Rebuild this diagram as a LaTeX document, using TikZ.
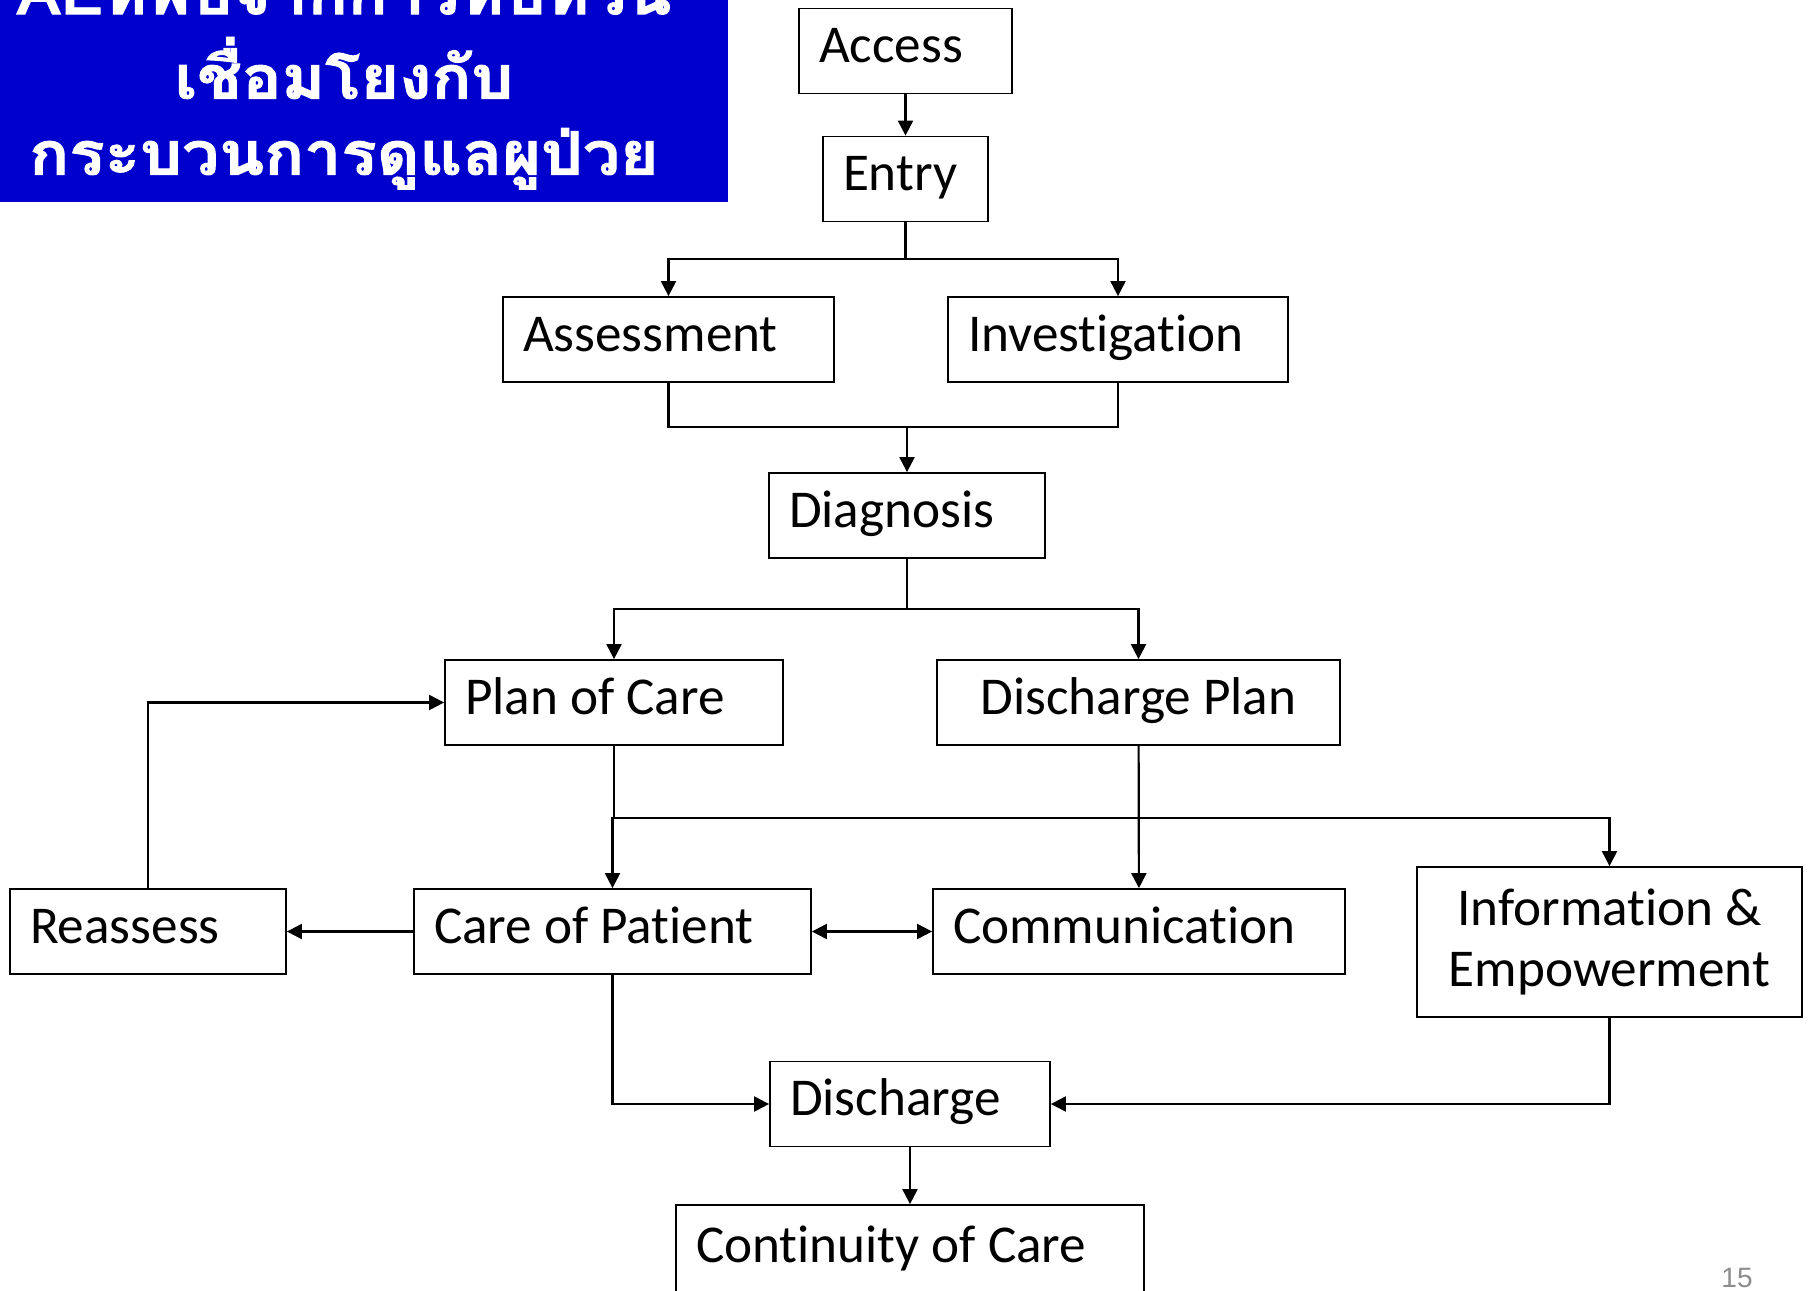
\documentclass[tikz,border=0pt]{standalone}
\usepackage{fontspec}
\setmainfont{Carlito}[Ligatures=NoCommon]
\newfontfamily\thaifont[Script=Thai, BoldFeatures={FakeBold=1.5}]{Loma}
\newfontfamily\numfont{Liberation Sans}
\usetikzlibrary{arrows.meta}
\definecolor{titleblue}{RGB}{0,0,204}
\definecolor{pagegrey}{RGB}{140,140,140}
\newcommand\boxfont{\fontsize{26.6}{30.5}\selectfont}

\begin{document}
\begin{tikzpicture}[
  x=0.5pt, y=-0.5pt,
  box/.style={draw=black, line width=0.9pt, align=flush left, inner xsep=10pt, inner ysep=0pt,
    font=\boxfont, text height=20pt, text depth=8.3pt,
    minimum height=42.5pt},
  infobox/.style={draw=black, line width=0.9pt, align=flush center, inner xsep=10pt, inner ysep=0pt,
    font=\boxfont, minimum height=75pt},
  arrow/.style={line width=1.1pt, -{Triangle[length=7.5pt,width=7.5pt]}},
  twoway/.style={line width=1.1pt, {Triangle[length=7.5pt,width=7.5pt]}-{Triangle[length=7.5pt,width=7.5pt]}},
  link/.style={line width=1.1pt}
]
\useasboundingbox (0,0) rectangle (1808,1290);
\clip (0,0) rectangle (1808,1290);

% title
\fill[titleblue] (0,0) rectangle (728,202);
\node[text=white, font=\thaifont\bfseries\fontsize{30}{38}\selectfont] (title) at (344,75)
  {\scalebox{1.1}[1]{\begin{tabular}{c}AEที่พบจากการทบทวน\\เชื่อมโยงกับ\\กระบวนการดูแลผูป่วย\end{tabular}}};

% boxes
\node[box, text width=86.5pt] (access) at (905.5,51) {Access};
\node[box, text width=62.5pt] (entry) at (905.5,179) {Entry};
\node[box, text width=145.5pt] (assess) at (668.5,339.5) {Assessment};
\node[box, text width=150pt] (invest) at (1118,339.5) {Investigation};
\node[box, text width=118pt] (diag) at (907,515.5) {Diagnosis};
\node[box, text width=149pt] (plan) at (614,702.5) {Plan of Care};
\node[box, text width=181.5pt, align=flush center] (dplan) at (1138.5,702.5) {Discharge Plan};
\node[box, text width=118pt] (reassess) at (148,931.5) {Reassess};
\node[box, text width=178.5pt] (care) at (612.5,931.5) {Care of Patient};
\node[box, text width=186pt] (comm) at (1139,931.5) {Communication};
\node[infobox, text width=172.5pt] (info) at (1609.5,942) {Information \&\\Empowerment};
\node[box, text width=120pt] (disch) at (910,1104) {Discharge};
\node[box, text width=214pt, minimum height=46pt] (cont) at (910,1251) {Continuity of Care};

\node[font=\numfont\fontsize{14}{16}\selectfont, text=pagegrey, anchor=base] (page) at (1737,1287) {15};

% branch points
\coordinate (s1) at (905.5,259);
\coordinate (m1) at (907,427);
\coordinate (s2) at (907,609);
\coordinate (s3) at (614,818);

\draw[arrow] (access) -- (entry);
\draw[link] (entry) -- (s1);
\draw[arrow] (s1) -| (assess);
\draw[arrow] (s1) -| (invest);

\draw[link] (assess) |- (m1);
\draw[link] (invest) |- (m1);
\draw[arrow] (m1) -- (diag);

\draw[link] (diag) -- (s2);
\draw[arrow] (s2) -| (plan);
\draw[arrow] (s2) -| (dplan);

\draw[link] (plan) -- (s3);
\draw[arrow] (s3) -| (care);
\draw[arrow] (s3) -| (info);
\draw[arrow] (dplan) -- (comm);

\draw[arrow] (care) -- (reassess);
\draw[arrow] (reassess) |- (plan);
\draw[twoway] (care) -- (comm);

\draw[arrow] (care) |- (disch);
\draw[arrow] (info) |- (disch);
\draw[arrow] (disch) -- (cont);

\end{tikzpicture}
\end{document}
